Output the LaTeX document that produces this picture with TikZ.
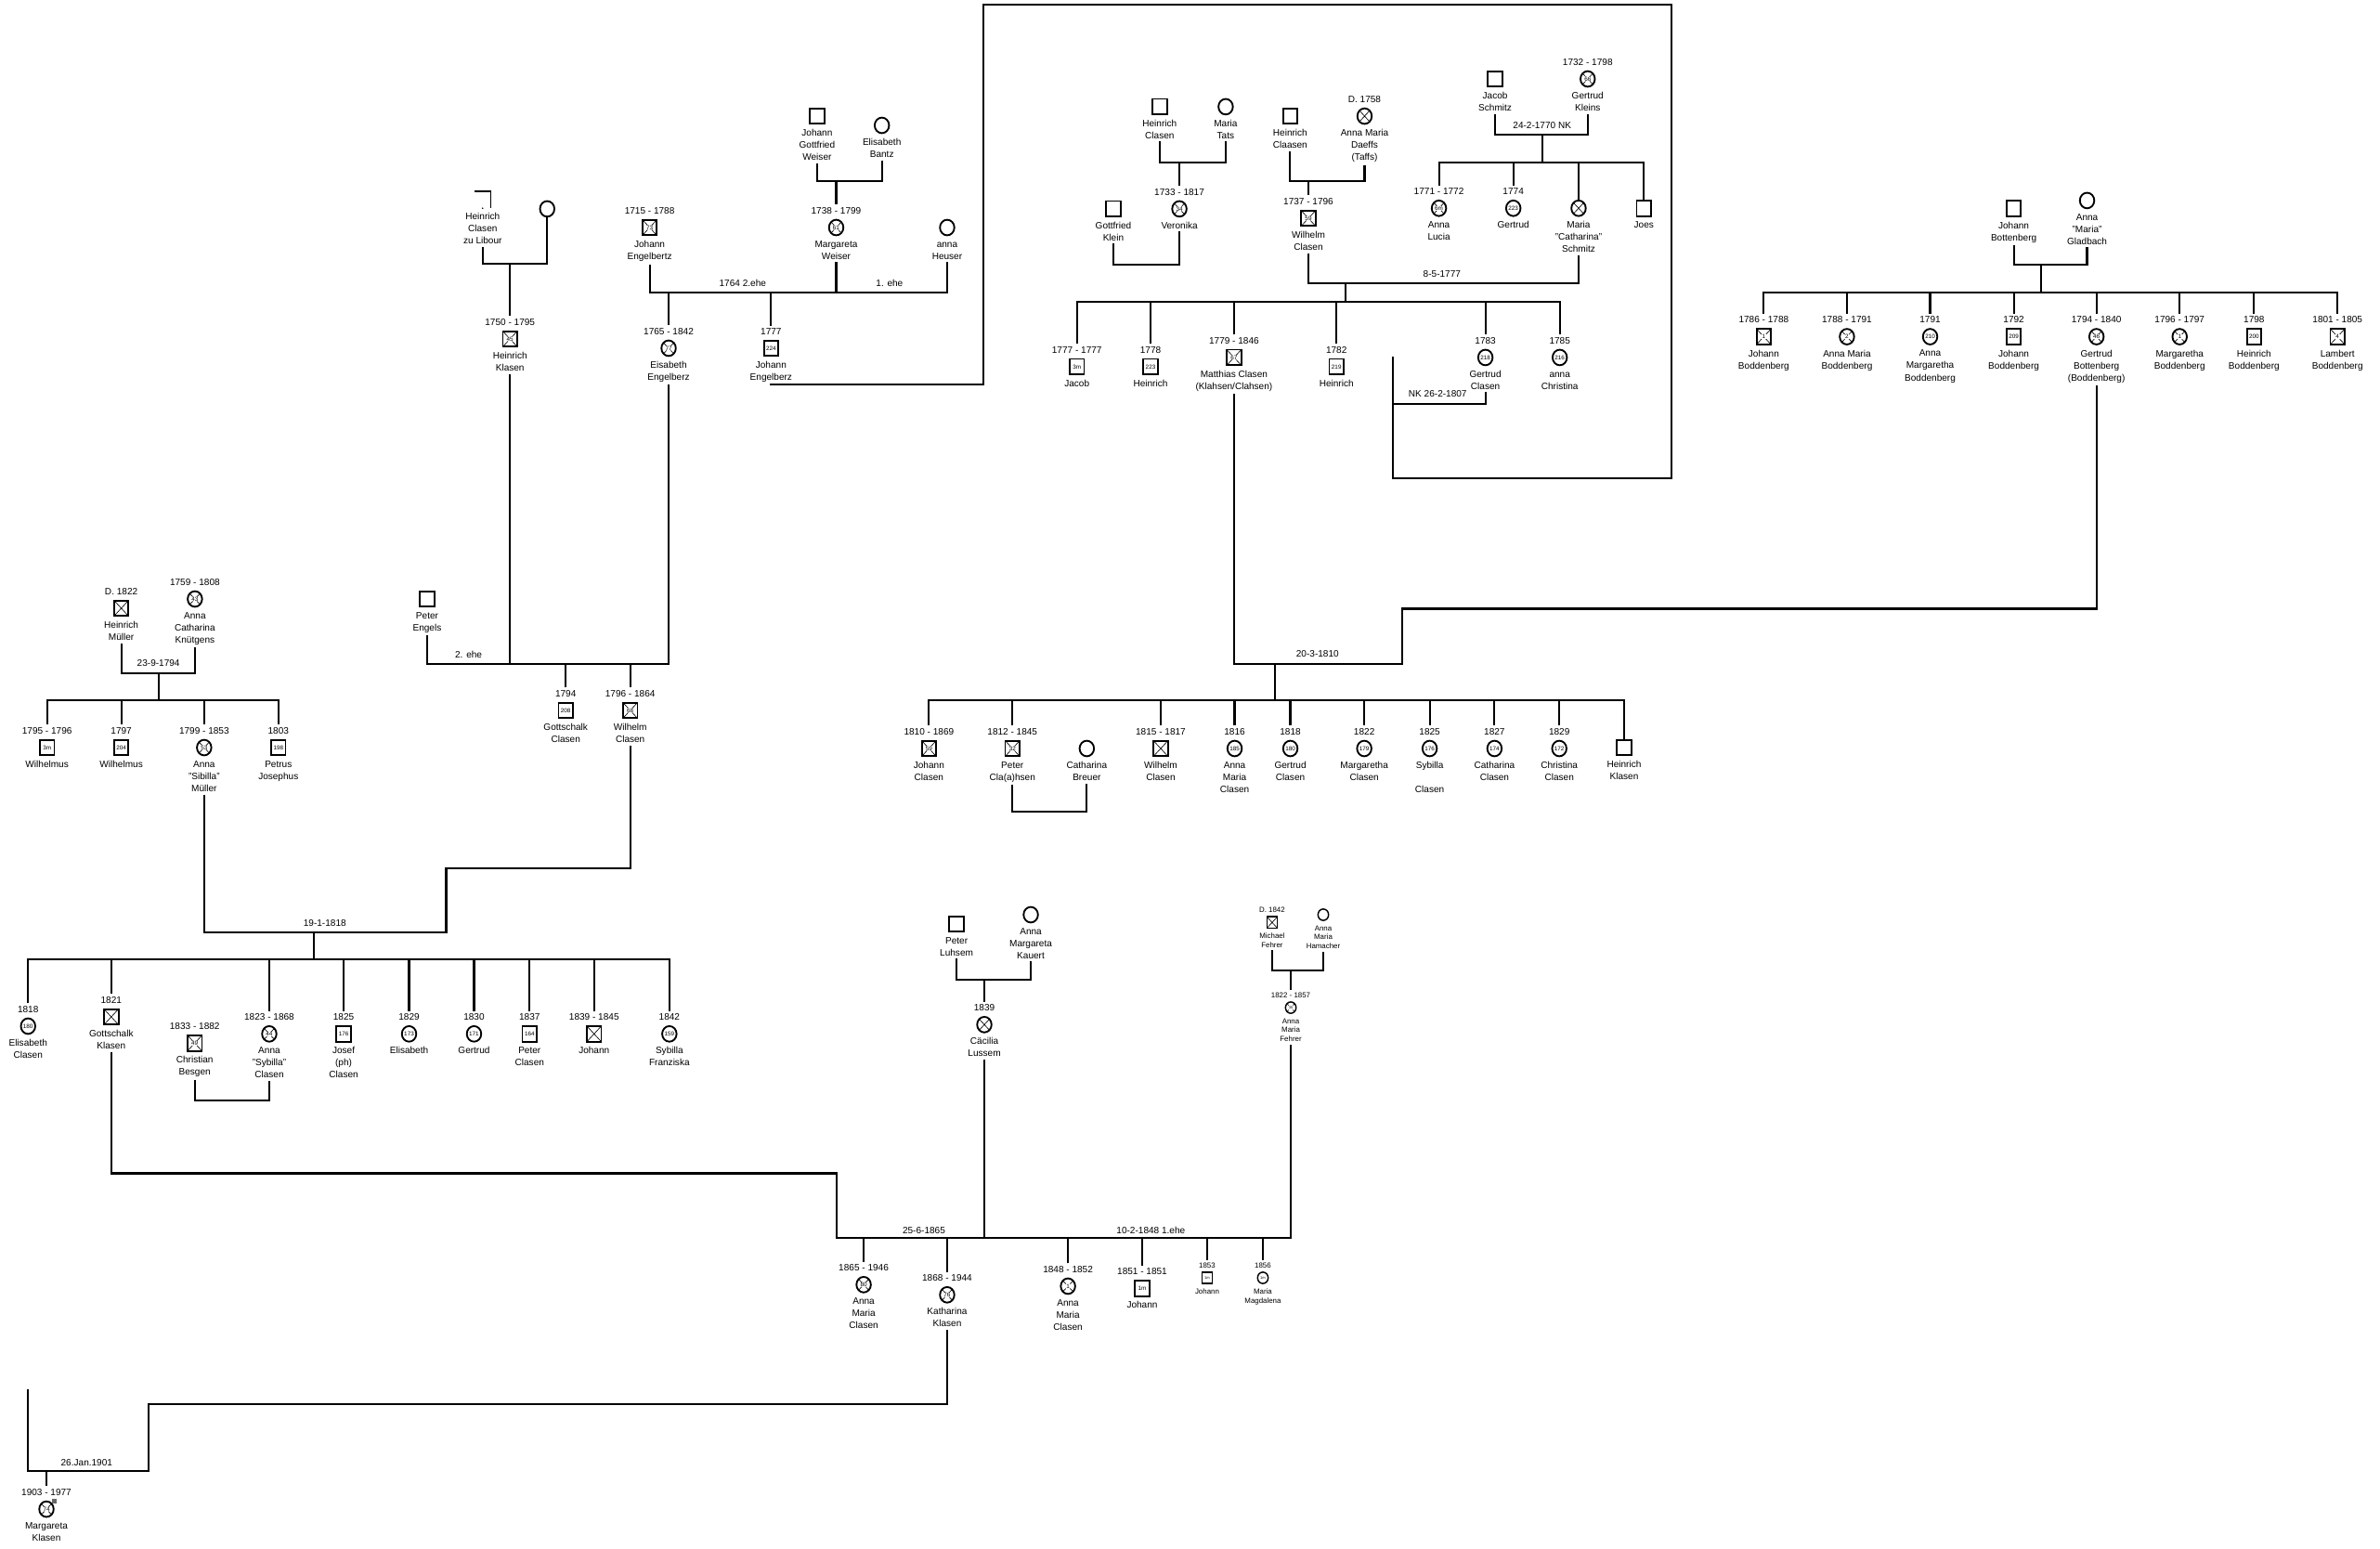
\documentclass[tikz,border=0pt]{standalone}
\usepackage{fontspec}
\setmainfont{Liberation Sans}
\usetikzlibrary{positioning,shapes.geometric}

\tikzset{
  gen/sym/.style={draw=black, line width=1.3pt, fill=white, inner sep=0pt,
    minimum width=0.38cm, minimum height=0.41cm, font=\fontsize{4.4}{4.4}\selectfont},
  gen/male/.style={gen/sym, rectangle},
  gen/female/.style={gen/sym, ellipse},
  gen/smallsym/.style={line width=1pt, minimum width=0.28cm, minimum height=0.3cm,
    font=\fontsize{2.8}{3}\selectfont},
  gen/dead/.style={path picture={
      \draw[line width=0.45pt]
        (path picture bounding box.north west) -- (path picture bounding box.south east)
        (path picture bounding box.north east) -- (path picture bounding box.south west);}},
  gen/deadnum/.style={path picture={
      \draw[line width=0.45pt]
        (path picture bounding box.north west) -- (path picture bounding box.south east)
        (path picture bounding box.north east) -- (path picture bounding box.south west);
      \fill[white] (path picture bounding box.center) circle (2.4pt);}},
  gen/date/.style={font=\fontsize{7}{9.1}\selectfont, inner sep=0pt, outer sep=2pt, anchor=south},
  gen/name/.style={font=\fontsize{7}{9.1}\selectfont, align=center, inner sep=0pt, outer sep=2pt, anchor=north},
  gen/sdate/.style={gen/date, font=\fontsize{5.5}{6.9}\selectfont},
  gen/sname/.style={gen/name, font=\fontsize{5.5}{6.9}\selectfont},
  gen/label/.style={font=\fontsize{7}{9.1}\selectfont, inner sep=0pt},
  gen/line/.style={line width=1.5pt}
}

% symbol, date above, names below
\newcommand{\gperson}[6]{%
  \node[#1] (#2) at (#3) {#4};
  \node[gen/date] (#2-d) at ([yshift=1.7pt]#2.north) {#5};
  \node[gen/name] (#2-n) at ([yshift=-1.4pt]#2.south) {\rule{0pt}{5pt}#6};
}
\newcommand{\gpersonsmall}[6]{%
  \node[#1, gen/smallsym] (#2) at (#3) {#4};
  \node[gen/sdate] (#2-d) at ([yshift=0.8pt]#2.north) {#5};
  \node[gen/sname] (#2-n) at ([yshift=-1.2pt]#2.south) {\rule{0pt}{3.9pt}#6};
}

\begin{document}
\begin{tikzpicture}[x=0.04cm,y=-0.04cm]
  \fill[white] (0,0) rectangle (1568,1020);
  \useasboundingbox (0,0) rectangle (1568,1020);

  % Clasen zu Libour / Engelbertz / Weiser
  \gperson{gen/male,draw=none,fill=none}{hcl}{318,131.5}{}{}{Heinrich\\Clasen\\zu Libour}
  \draw[line width=1.3pt] (hcl.north west) -| (hcl.south east);
  \fill (hcl.south) circle (0.6pt);
  \gperson{gen/female}{hclw}{360.5,137.6}{}{}{}
  \gperson{gen/male,gen/deadnum}{hkl}{336,223.3}{45}{1750 - 1795}{Heinrich\\Klasen}
  \gperson{gen/male,gen/deadnum}{jeng}{428,149.9}{73}{1715 - 1788}{Johann\\Engelbertz}
  \gperson{gen/male}{jgw}{538.3,76.5}{}{}{Johann\\Gottfried\\Weiser}
  \gperson{gen/female}{eba}{581,82.6}{}{}{Elisabeth\\Bantz}
  \gperson{gen/female,gen/deadnum}{mwe}{550.9,149.9}{61}{1738 - 1799}{Margareta\\Weiser}
  \gperson{gen/female}{ahe}{624,149.9}{}{}{anna\\Heuser}
  \gperson{gen/female,gen/deadnum}{eeng}{440.5,229.4}{77}{1765 - 1842}{Eisabeth\\Engelberz}
  \gperson{gen/male}{jeng2}{508,229.4}{224}{1777}{Johann\\Engelberz}

  % Clasen / Tats, Claasen / Daeffs
  \gperson{gen/male}{hcla}{764,70.3}{}{}{Heinrich\\Clasen}
  \gperson{gen/female}{mta}{807.5,70.3}{}{}{Maria\\Tats}
  \gperson{gen/female,gen/deadnum}{vero}{777,137.6}{34}{1733 - 1817}{Veronika}
  \gperson{gen/male}{gkl}{733.5,137.6}{}{}{Gottfried\\Klein}
  \gperson{gen/male}{hcls}{850,76.5}{}{}{Heinrich\\Claasen}
  \gperson{gen/female,gen/dead}{amd}{899,76.5}{}{D. 1758}{Anna Maria\\Daeffs\\(Taffs)}
  \gperson{gen/male,gen/deadnum}{wcl}{862,143.8}{59}{1737 - 1796}{Wilhelm\\Clasen}

  % Schmitz / Kleins
  \gperson{gen/male}{jsch}{985,52}{}{}{Jacob\\Schmitz}
  \gperson{gen/female,gen/deadnum}{gkle}{1046,52}{66}{1732 - 1798}{Gertrud\\Kleins}
  \gperson{gen/female,gen/deadnum}{alu}{948,137.2}{6m}{1771 - 1772}{Anna\\Lucia}
  \gperson{gen/female}{gsch}{997,137.2}{223}{1774}{Gertrud}
  \gperson{gen/female,gen/dead}{mcs}{1040,137.2}{}{}{Maria\\"Catharina"\\Schmitz}
  \gperson{gen/male}{joes}{1083,137.2}{}{}{Joes}

  % children 8-5-1777
  \gperson{gen/male}{jac}{709.5,241.6}{3m}{1777 - 1777}{Jacob}
  \gperson{gen/male}{hei1}{758,241.6}{223}{1778}{Heinrich}
  \gperson{gen/male,gen/deadnum}{mat}{813,235.5}{67}{1779 - 1846}{Matthias Clasen\\(Klahsen/Clahsen)}
  \gperson{gen/male}{hei2}{880.5,241.6}{219}{1782}{Heinrich}
  \gperson{gen/female}{gcl}{978.6,235.5}{218}{1783}{Gertrud\\Clasen}
  \gperson{gen/female}{ach}{1027.6,235.5}{216}{1785}{anna\\Christina}

  % Bottenberg / Gladbach
  \gperson{gen/male}{jbo}{1326.7,137.4}{}{}{Johann\\Bottenberg}
  \gperson{gen/female}{agl}{1375,132.1}{}{}{Anna\\"Maria"\\Gladbach}
  \gperson{gen/male,gen/deadnum}{bo1}{1162,221.8}{1}{1786 - 1788}{Johann\\Boddenberg}
  \gperson{gen/female,gen/deadnum}{bo2}{1216.8,221.8}{2}{1788 - 1791}{Anna Maria\\Boddenberg}
  \gperson{gen/female}{bo3}{1271.6,221.8}{210}{1791}{Anna\\Margaretha\\Boddenberg}
  \gperson{gen/male}{bo4}{1326.7,221.8}{209}{1792}{Johann\\Boddenberg}
  \gperson{gen/female,gen/deadnum}{bo5}{1381.2,221.8}{46}{1794 - 1840}{Gertrud\\Bottenberg\\(Boddenberg)}
  \gperson{gen/female,gen/deadnum}{bo6}{1436,221.8}{1}{1796 - 1797}{Margaretha\\Boddenberg}
  \gperson{gen/male}{bo7}{1485,221.8}{200}{1798}{Heinrich\\Boddenberg}
  \gperson{gen/male,gen/deadnum}{bo8}{1540,221.8}{4}{1801 - 1805}{Lambert\\Boddenberg}

  % Müller / Knütgens, Engels
  \gperson{gen/male,gen/dead}{hmu}{79.9,400.7}{}{D. 1822}{Heinrich\\Müller}
  \gperson{gen/female,gen/deadnum}{akn}{128.4,394.6}{43}{1759 - 1808}{Anna\\Catharina\\Knütgens}
  \gperson{gen/male}{wi1}{31,492.5}{3m}{1795 - 1796}{Wilhelmus}
  \gperson{gen/male}{wi2}{79.9,492.5}{204}{1797}{Wilhelmus}
  \gperson{gen/female,gen/deadnum}{asm}{134.5,492.5}{53}{1799 - 1853}{Anna\\"Sibilla"\\Müller}
  \gperson{gen/male}{pjo}{183.4,492.5}{198}{1803}{Petrus\\Josephus}
  \gperson{gen/male}{pen}{281.4,394.6}{}{}{Peter\\Engels}
  \gperson{gen/male}{gcla}{372.7,468}{208}{1794}{Gottschalk\\Clasen}
  \gperson{gen/male,gen/deadnum}{wcla}{415.2,468}{68}{1796 - 1864}{Wilhelm\\Clasen}

  % children 19-1-1818
  \gperson{gen/female}{ecl}{18.5,676}{180}{1818}{Elisabeth\\Clasen}
  \gperson{gen/male,gen/dead}{gkl2}{73.3,669.9}{}{1821}{Gottschalk\\Klasen}
  \gperson{gen/male,gen/deadnum}{cbe}{128.3,687.2}{49}{1833 - 1882}{Christian\\Besgen}
  \gperson{gen/female,gen/deadnum}{asc}{177.4,681.1}{44}{1823 - 1868}{Anna\\"Sybilla"\\Clasen}
  \gperson{gen/male}{jos}{226.4,681.1}{176}{1825}{Josef\\(ph)\\Clasen}
  \gperson{gen/female}{eli}{269.5,681.1}{173}{1829}{Elisabeth}
  \gperson{gen/female}{ger}{312.3,681.1}{171}{1830}{Gertrud}
  \gperson{gen/male}{pcl}{348.9,681.1}{164}{1837}{Peter\\Clasen}
  \gperson{gen/male,gen/dead}{joh}{391.4,681.1}{}{1839 - 1845}{Johann}
  \gperson{gen/female}{syf}{441,681.1}{159}{1842}{Sybilla\\Franziska}

  % children 20-3-1810
  \gperson{gen/male,gen/deadnum}{jcl}{612,493.1}{59}{1810 - 1869}{Johann\\Clasen}
  \gperson{gen/male,gen/deadnum}{pcla}{667,493.1}{32}{1812 - 1845}{Peter\\Cla(a)hsen}
  \gperson{gen/female}{cbr}{716,493.1}{}{}{Catharina\\Breuer}
  \gperson{gen/male,gen/dead}{wcl2}{764.7,493.1}{}{1815 - 1817}{Wilhelm\\Clasen}
  \gperson{gen/female}{amc}{813.4,493.1}{185}{1816}{Anna\\Maria\\Clasen}
  \gperson{gen/female}{gtc}{850.1,493.1}{180}{1818}{Gertrud\\Clasen}
  \gperson{gen/female}{mgc}{898.8,493.1}{179}{1822}{Margaretha\\Clasen}
  \gperson{gen/female}{syc}{941.9,493.1}{176}{1825}{Sybilla\\\mbox{}\\Clasen}
  \gperson{gen/female}{cac}{984.6,493.1}{174}{1827}{Catharina\\Clasen}
  \gperson{gen/female}{chc}{1027.3,493.1}{172}{1829}{Christina\\Clasen}
  \gperson{gen/male}{hkc}{1070,492.5}{}{}{Heinrich\\Klasen}

  % Luhsem / Kauert, Fehrer / Hamacher
  \gperson{gen/male}{plu}{630.2,608.7}{}{}{Peter\\Luhsem}
  \gperson{gen/female}{amk}{679.1,602.6}{}{}{Anna\\Margareta\\Kauert}
  \gperson{gen/female,gen/dead}{cae}{648.5,675}{}{1839}{Cäcilia\\Lussem}
  \gpersonsmall{gen/male,gen/dead}{mfe}{838.1,607.7}{}{D. 1842}{Michael\\Fehrer}
  \gpersonsmall{gen/female}{amh}{871.8,602.6}{}{}{Anna\\Maria\\Hamacher}
  \gpersonsmall{gen/female,gen/deadnum}{amf}{850.4,663.8}{35}{1822 - 1857}{Anna\\Maria\\Fehrer}

  % children 25-6-1865 and 10-2-1848
  \gperson{gen/female,gen/deadnum}{amc2}{569,846.3}{80}{1865 - 1946}{Anna\\Maria\\Clasen}
  \gperson{gen/female,gen/deadnum}{kkl}{624,853}{76}{1868 - 1944}{Katharina\\Klasen}
  \gperson{gen/female,gen/deadnum}{amc3}{703.6,847.3}{1}{1848 - 1852}{Anna\\Maria\\Clasen}
  \gperson{gen/male}{jo1}{752.5,848.7}{1m}{1851 - 1851}{Johann}
  \gpersonsmall{gen/male}{jo2}{795.3,841.8}{1m}{1853}{Johann}
  \gpersonsmall{gen/female}{mma}{832,841.8}{1m}{1856}{Maria\\Magdalena}
  \gperson{gen/female,gen/deadnum}{mkl}{30.6,994.2}{74}{1903 - 1977}{Margareta\\Klasen}
  \fill[black!60] (34.3,987.6) rectangle (37.1,990.5);

  % bends and bars
  \coordinate (m-libour) at (336,174);
  \coordinate (m-weiser) at (550.9,119.3);
  \coordinate (m-eng) at (508,192.7);
  \coordinate (m-tats) at (777,107.1);
  \coordinate (m-vero) at (755,174.3);
  \coordinate (m-daeffs) at (862,119.3);
  \coordinate (m-schmitz) at (1016,88.7);
  \coordinate (b-schmitz) at (1016,107.1);
  \coordinate (m-wilhelm) at (886.4,186.6);
  \coordinate (b-wilhelm) at (886.4,198.8);
  \coordinate (lp1) at (648,253.2);
  \coordinate (lp2) at (648,3);
  \coordinate (lp3) at (1101,3);
  \coordinate (lp4) at (1101,315);
  \coordinate (lp5) at (917.6,315);
  \coordinate (nk) at (917.6,235);
  \coordinate (nkm) at (917.6,266.1);
  \coordinate (m-bodd) at (1344.7,174.3);
  \coordinate (b-bodd) at (1344.7,192.7);
  \coordinate (c-1810) at (924,401);
  \coordinate (m-1810) at (840,437.4);
  \coordinate (b-1810) at (840,461.5);
  \coordinate (m-breuer) at (691.5,534.9);
  \coordinate (m-mueller) at (104.4,443.5);
  \coordinate (b-mueller) at (104.4,461.5);
  \coordinate (m-engels) at (393.9,437.4);
  \coordinate (c-1818) at (294,572);
  \coordinate (m-1818) at (207,614);
  \coordinate (b-1818) at (207,632);
  \coordinate (m-besgen) at (153,725);
  \coordinate (c-1865) at (551,773);
  \coordinate (m-1865) at (648.5,815.7);
  \coordinate (m-luhsem) at (648.5,645.4);
  \coordinate (m-fehrer) at (850.4,639.3);
  \coordinate (c-1901) at (97.9,925);
  \coordinate (m-1901) at (30.6,969.1);
  \coordinate (h-1901) at (18.4,915);

  % connectors
  \draw[gen/line] (hcl-n.south) |- (m-libour) -| (hclw.south);
  \draw[gen/line] (m-libour) -- (hkl-d.north);
  \draw[gen/line] (hkl-n.south) |- (m-engels);
  \draw[gen/line] (jgw-n.south) |- (m-weiser) -| (eba-n.south);
  \draw[gen/line] (m-weiser) -- (mwe-d.north);
  \draw[gen/line] (jeng-n.south) |- (m-eng) -| (ahe-n.south);
  \draw[gen/line] (mwe-n.south) -- (mwe-n.south |- m-eng);
  \draw[gen/line] (eeng-d.north) |- (m-eng);
  \draw[gen/line] (m-eng) -- (jeng2-d.north);
  \draw[gen/line] (eeng-n.south) |- (m-engels);
  \draw[gen/line] (jeng2-n.south) |- (lp1) -- (lp2) -- (lp3) -- (lp4) -- (lp5) -- (nk);
  \draw[gen/line] (gcl-n.south) |- (nkm);
  \draw[gen/line] (hcla-n.south) |- (m-tats) -| (mta-n.south);
  \draw[gen/line] (m-tats) -- (vero-d.north);
  \draw[gen/line] (gkl-n.south) |- (m-vero) -| (vero-n.south);
  \draw[gen/line] (hcls-n.south) |- (m-daeffs) -| (amd-n.south);
  \draw[gen/line] (m-daeffs) -- (wcl-d.north);
  \draw[gen/line] (jsch-n.south) |- (m-schmitz) -| (gkle-n.south);
  \draw[gen/line] (m-schmitz) -- (b-schmitz);
  \foreach \p in {alu-d,gsch-d,mcs,joes}
    \draw[gen/line] (\p.north) |- (b-schmitz);
  \draw[gen/line] (wcl-n.south) |- (m-wilhelm) -| (mcs-n.south);
  \draw[gen/line] (m-wilhelm) -- (b-wilhelm);
  \foreach \p in {jac,hei1,mat,hei2,gcl,ach}
    \draw[gen/line] (\p-d.north) |- (b-wilhelm);
  \draw[gen/line] (jbo-n.south) |- (m-bodd) -| (agl-n.south);
  \draw[gen/line] (m-bodd) -- (b-bodd);
  \foreach \i in {1,...,8}
    \draw[gen/line] (bo\i-d.north) |- (b-bodd);
  \draw[gen/line] (bo5-n.south) |- (c-1810) |- (m-1810);
  \draw[gen/line] (mat-n.south) |- (m-1810);
  \draw[gen/line] (m-1810) -- (b-1810);
  \foreach \p in {jcl,pcla,wcl2,amc,gtc,mgc,syc,cac,chc}
    \draw[gen/line] (\p-d.north) |- (b-1810);
  \draw[gen/line] (hkc.north) |- (b-1810);
  \draw[gen/line] (pcla-n.south) |- (m-breuer) -| (cbr-n.south);
  \draw[gen/line] (hmu-n.south) |- (m-mueller) -| (akn-n.south);
  \draw[gen/line] (m-mueller) -- (b-mueller);
  \foreach \p in {wi1,wi2,asm,pjo}
    \draw[gen/line] (\p-d.north) |- (b-mueller);
  \draw[gen/line] (pen-n.south) |- (m-engels);
  \foreach \p in {gcla,wcla}
    \draw[gen/line] (\p-d.north) |- (m-engels);
  \draw[gen/line] (wcla-n.south) |- (c-1818) |- (m-1818) -| (asm-n.south);
  \draw[gen/line] (m-1818) -- (b-1818);
  \foreach \p in {ecl,gkl2,asc,jos,eli,ger,pcl,joh,syf}
    \draw[gen/line] (\p-d.north) |- (b-1818);
  \draw[gen/line] (cbe-n.south) |- (m-besgen) -| (asc-n.south);
  \draw[gen/line] (gkl2-n.south) |- (c-1865) |- (m-1865);
  \draw[gen/line] (plu-n.south) |- (m-luhsem) -| (amk-n.south);
  \draw[gen/line] (m-luhsem) -- (cae-d.north);
  \draw[gen/line] (cae-n.south) -- (m-1865);
  \draw[gen/line] (mfe-n.south) |- (m-fehrer) -| (amh-n.south);
  \draw[gen/line] (m-fehrer) -- (amf-d.north);
  \draw[gen/line] (amf-n.south) |- (m-1865);
  \foreach \p in {amc2,kkl,amc3,jo1,jo2,mma}
    \draw[gen/line] (\p-d.north) |- (m-1865);
  \draw[gen/line] (kkl-n.south) |- (c-1901) |- (m-1901) -| (h-1901);
  \draw[gen/line] (m-1901) -- (mkl-d.north);

  % marriage labels
  \node[gen/label] (l-1764) at (489.3,186.6) {1764 2.ehe};
  \node[gen/label] (l-ehe1) at (586,186.6) {1. ehe};
  \node[gen/label] (l-1770) at (1016,82.6) {24-2-1770 NK};
  \node[gen/label] (l-1777) at (950,180.5) {8-5-1777};
  \node[gen/label] (l-1807) at (947.2,259.6) {NK 26-2-1807};
  \node[gen/label] (l-1810) at (868,431) {20-3-1810};
  \node[gen/label] (l-1794) at (104.4,437) {23-9-1794};
  \node[gen/label] (l-ehe2) at (308.7,431.3) {2. ehe};
  \node[gen/label] (l-1818) at (214,608) {19-1-1818};
  \node[gen/label] (l-1865) at (608.7,810.6) {25-6-1865};
  \node[gen/label] (l-1848) at (758.2,810.6) {10-2-1848 1.ehe};
  \node[gen/label] (l-1901) at (57.1,963.6) {26.Jan.1901};
\end{tikzpicture}
\end{document}
